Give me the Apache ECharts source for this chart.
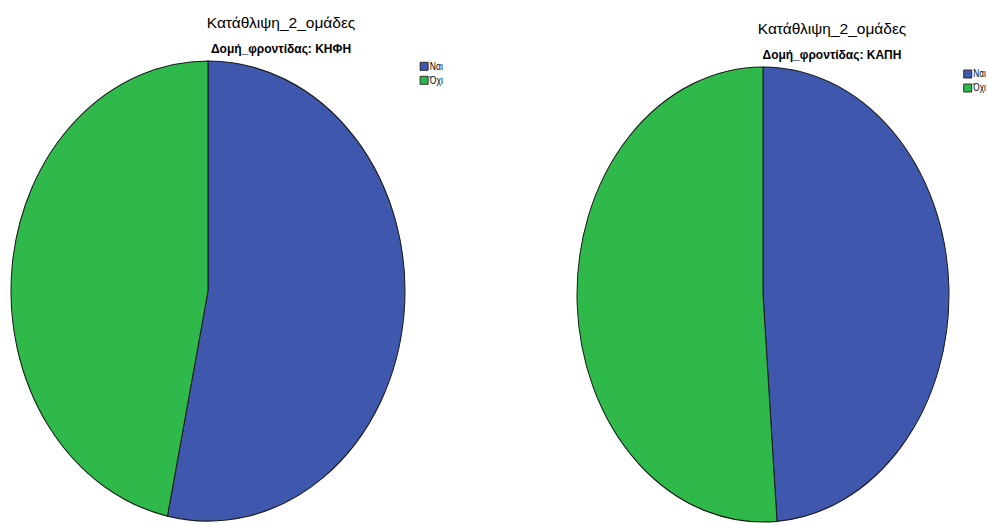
<!DOCTYPE html>
<html>
<head>
<meta charset="utf-8">
<script src="https://cdn.jsdelivr.net/npm/echarts@6/dist/echarts.min.js"></script>
<style>
html,body{margin:0;padding:0;width:988px;height:523px;overflow:hidden;background:#fff;}
#left,#right,#titles{position:absolute;top:0;height:523px;}
#left{left:-100px;width:1088px;transform-origin:308px 0;transform:scaleX(0.8565);}
#right{left:0;width:1100px;transform-origin:763px 0;transform:scaleX(0.8176);}
#titles{left:0;width:988px;pointer-events:none;}
</style>
</head>
<body>
<div id="left"></div>
<div id="right"></div>
<div id="titles"></div>
<script>
// Data
const categories = ['Ναι', 'Όχι'];
const valuesKHFH = [53.3, 46.7];
const valuesKAPH = [48.8, 51.2];
const mainTitle = 'Κατάθλιψη_2_ομάδες';
const subTitles = ['Δομή_φροντίδας: ΚΗΦΗ', 'Δομή_φροντίδας: ΚΑΠΗ'];
const colors = ['#3f58ad', '#2fb94b'];

function pieOption(values, cx, cy, r, legendLeft, legendTop, sx) {
  return {
    animation: false,
    color: colors,
    legend: {
      orient: 'vertical',
      left: legendLeft,
      top: legendTop,
      padding: 0,
      itemWidth: 8 / sx,
      itemHeight: 8,
      itemGap: 4,
      icon: 'rect',
      data: categories,
      itemStyle: { borderColor: '#222', borderWidth: 1 },
      textStyle: { fontFamily: 'Liberation Sans Narrow, Liberation Sans, Arial', fontSize: 10, lineHeight: 10, color: '#000', padding: [0, 0, 0, -3] }
    },
    series: [{
      type: 'pie',
      center: [cx, cy],
      radius: r,
      startAngle: 90,
      clockwise: true,
      label: { show: false },
      labelLine: { show: false },
      itemStyle: { borderColor: '#1a1a1a', borderWidth: 1.2 },
      emphasis: { disabled: true },
      data: categories.map((c, i) => ({ name: c, value: values[i] }))
    }]
  };
}

const left = echarts.init(document.getElementById('left'), null, { renderer: 'svg' });
left.setOption(pieOption(valuesKHFH, 308, 291, 230, 308 + (419.7 - 208) / 0.8565, 61.3, 0.8565));

const right = echarts.init(document.getElementById('right'), null, { renderer: 'svg' });
right.setOption(pieOption(valuesKAPH, 763, 294.5, 227.5, 763 + (963.3 - 763) / 0.8176, 69, 0.8176));

const titles = echarts.init(document.getElementById('titles'), null, { renderer: 'svg' });
titles.setOption({
  animation: false,
  title: [
    { text: mainTitle, subtext: subTitles[0], left: 276, top: 9, textAlign: 'center', itemGap: 13,
      textStyle: { fontFamily: 'Liberation Sans, Arial', fontSize: 15.5, fontWeight: 'normal', color: '#000' },
      subtextStyle: { fontFamily: 'Liberation Sans, Arial', fontSize: 12, fontWeight: 'bold', color: '#000' } },
    { text: mainTitle, subtext: subTitles[1], left: 827, top: 15, textAlign: 'center', itemGap: 13,
      textStyle: { fontFamily: 'Liberation Sans, Arial', fontSize: 15.5, fontWeight: 'normal', color: '#000' },
      subtextStyle: { fontFamily: 'Liberation Sans, Arial', fontSize: 12, fontWeight: 'bold', color: '#000' } }
  ]
});
</script>
</body>
</html>
